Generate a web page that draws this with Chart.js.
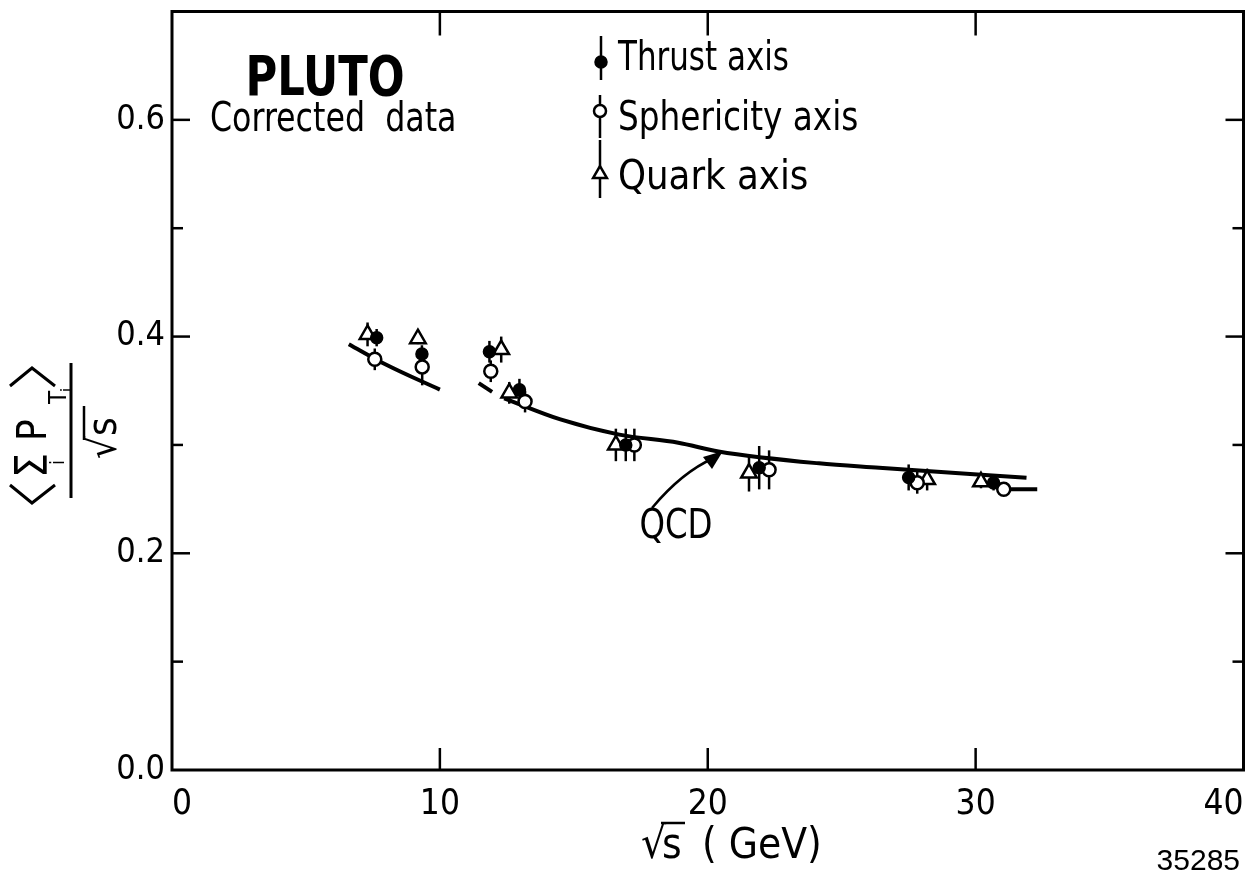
<!DOCTYPE html>
<html>
<head>
<meta charset="utf-8">
<title>PLUTO - sum pT / sqrt(s)</title>
<script src="https://cdn.jsdelivr.net/npm/chart.js@4.4.0/dist/chart.umd.min.js"></script>
<style>
    html, body { margin: 0; padding: 0; background: #fff; }
    #wrap { width: 1255px; height: 875px; position: relative; }
</style>
</head>
<body>
<div id="wrap"><canvas id="chart"></canvas></div>
<script>
// Values (sqrt(s) in GeV, <sum pT>/sqrt(s))
const thrustX = [7.64, 9.33, 11.85, 12.97, 16.94, 21.92, 27.50, 30.67];
const thrustY = [0.399, 0.384, 0.386, 0.351, 0.300, 0.279, 0.270, 0.265];
const thrustErr = [0.008, 0.008, 0.010, 0.010, 0.015, 0.020, 0.012, 0.007];

const sphericityX = [7.57, 9.34, 11.90, 13.18, 17.26, 22.29, 27.82, 31.05];
const sphericityY = [0.379, 0.372, 0.368, 0.340, 0.300, 0.277, 0.265, 0.259];
const sphericityErr = [0.010, 0.017, 0.010, 0.010, 0.015, 0.018, 0.010, 0.006];

const quarkX = [7.30, 9.18, 12.29, 12.59, 16.57, 21.54, 28.19, 30.20];
const quarkY = [0.402, 0.398, 0.388, 0.348, 0.300, 0.274, 0.268, 0.266];
const quarkErr = [0.011, 0.005, 0.012, 0.010, 0.015, 0.017, 0.010, 0.006];

// QCD prediction, drawn in pieces like the original
const qcdLowX = [6.6, 8.0, 10.0];
const qcdLowY = [0.393, 0.374, 0.351];
const qcdDashX = [11.45, 11.95];
const qcdDashY = [0.357, 0.349];
const qcdHighX = [12.4, 14.5, 16.7, 18.9, 20.4, 24.15, 26.4, 31.9];
const qcdHighY = [0.343, 0.3235, 0.3095, 0.302, 0.294, 0.283, 0.279, 0.2696];
const qcdTailX = [31.3, 32.3];
const qcdTailY = [0.259, 0.259];

const xTickStep = 10;
const yTickStep = 0.1;

const FONT = "'Liberation Sans Narrow', 'DejaVu Sans Condensed', 'Arial Narrow', sans-serif";

function toPoints(xs, ys) {
    return xs.map((x, i) => ({ x: x, y: ys[i] }));
}

function line(ctx, x1, y1, x2, y2) {
    ctx.beginPath();
    ctx.moveTo(x1, y1);
    ctx.lineTo(x2, y2);
    ctx.stroke();
}

/**
 * Draw text squeezed horizontally (the original lettering is very narrow)
 */
function text(ctx, str, x, y, size, opts = {}) {
    ctx.save();
    ctx.fillStyle = '#000';
    ctx.font = (opts.bold ? 'bold ' : '') + size + 'px ' + (opts.family || FONT);
    ctx.textAlign = opts.align || 'left';
    ctx.textBaseline = 'alphabetic';
    const sx = opts.squeeze || 1;
    ctx.translate(x, y);
    ctx.scale(sx, 1);
    ctx.fillText(str, 0, 0);
    ctx.restore();
}

// vertical error bars, drawn under the markers
const errorBars = {
    id: 'errorBars',
    beforeDatasetsDraw(chart) {
        const ctx = chart.ctx;
        const xs = chart.scales.x, ys = chart.scales.y;
        ctx.save();
        ctx.strokeStyle = '#000';
        ctx.lineWidth = 2.5;
        chart.data.datasets.forEach(ds => {
            if (!ds.errors) return;
            ds.data.forEach((p, i) => {
                const px = xs.getPixelForValue(p.x);
                line(ctx, px, ys.getPixelForValue(p.y - ds.errors[i]),
                          px, ys.getPixelForValue(p.y + ds.errors[i]));
            });
        });
        ctx.restore();
    }
};

// box round the plot with inward ticks on all four sides
const frameTicks = {
    id: 'frameTicks',
    afterDraw(chart) {
        const ctx = chart.ctx;
        const a = chart.chartArea;
        const x = chart.scales.x, y = chart.scales.y;
        ctx.save();
        ctx.strokeStyle = '#000';
        ctx.lineWidth = 3;
        ctx.strokeRect(a.left, a.top, a.right - a.left, a.bottom - a.top);
        ctx.lineWidth = 2.5;
        x.ticks.forEach(t => {
            if (t.value <= x.min || t.value >= x.max) return;
            const px = x.getPixelForValue(t.value);
            line(ctx, px, a.bottom, px, a.bottom - 22);
            line(ctx, px, a.top, px, a.top + 24);
        });
        y.ticks.forEach(t => {
            if (t.value <= y.min || t.value >= y.max) return;
            const py = y.getPixelForValue(t.value);
            const len = t.label ? 18 : 11;
            line(ctx, a.left, py, a.left + len, py);
            line(ctx, a.right, py, a.right - len, py);
        });
        ctx.restore();
    }
};

function legendSymbol(ctx, style, x, y, top, bottom, filled, radius) {
    ctx.save();
    ctx.strokeStyle = '#000';
    ctx.lineWidth = 2.5;
    line(ctx, x, top, x, bottom);
    ctx.fillStyle = filled ? '#000' : '#fff';
    Chart.helpers.drawPoint(ctx, { pointStyle: style, radius: radius, rotation: 0, borderWidth: 2.5 }, x, y);
    ctx.restore();
}

function drawYTitle(ctx) {
    ctx.save();
    ctx.translate(0, 432);
    ctx.rotate(-Math.PI / 2);
    // (u, v) here is screen (v, 432 - u)
    ctx.strokeStyle = '#000';
    ctx.lineWidth = 3;

    // angle brackets
    ctx.beginPath();
    ctx.moveTo(-53, 10); ctx.lineTo(-71, 32); ctx.lineTo(-53, 55);
    ctx.stroke();
    ctx.beginPath();
    ctx.moveTo(46, 10); ctx.lineTo(64, 32); ctx.lineTo(46, 55);
    ctx.stroke();

    text(ctx, '\u03A3', -46, 47, 44);
    text(ctx, 'i', -33, 64, 20);
    text(ctx, 'P', -9, 46, 40);
    text(ctx, 'T', 28, 66, 24);
    text(ctx, 'i', 40, 72, 16);

    // fraction bar
    line(ctx, -66, 71, 69, 71);

    // sqrt(s)
    text(ctx, '\u221A', -27, 116, 40);
    text(ctx, 's', -4, 116, 40);
    ctx.lineWidth = 2.5;
    line(ctx, -8, 84, 26, 84);
    ctx.restore();
}

const annotations = {
    id: 'annotations',
    afterDraw(chart) {
        const ctx = chart.ctx;
        ctx.save();

        // header text
        text(ctx, 'PLUTO', 325, 95, 56, { bold: true, align: 'center', squeeze: 0.86 });
        text(ctx, 'Corrected  data', 210, 131, 40, { squeeze: 0.88 });

        // legend
        text(ctx, 'Thrust axis', 618, 70, 40, { squeeze: 0.86 });
        text(ctx, 'Sphericity axis', 618, 130, 40, { squeeze: 0.91 });
        text(ctx, 'Quark axis', 618, 189, 40, { squeeze: 0.99 });
        legendSymbol(ctx, 'circle', 601, 62, 36, 80, true, 5.5);
        legendSymbol(ctx, 'circle', 600, 111, 95, 138, false, 6);
        legendSymbol(ctx, 'triangle', 600, 174, 140, 198, false, 8);

        // QCD label with arrow
        text(ctx, 'QCD', 676, 538, 40, { align: 'center', squeeze: 0.9 });
        ctx.strokeStyle = '#000';
        ctx.fillStyle = '#000';
        ctx.lineWidth = 2.5;
        ctx.beginPath();
        ctx.moveTo(652, 508);
        ctx.quadraticCurveTo(682, 472, 714, 458);
        ctx.stroke();
        ctx.beginPath();
        ctx.moveTo(723, 451);
        ctx.lineTo(703, 457);
        ctx.lineTo(712, 469);
        ctx.closePath();
        ctx.fill();

        // x axis title
        text(ctx, '\u221A', 641, 858, 44);
        text(ctx, 's', 662, 858, 42);
        ctx.lineWidth = 2.5;
        line(ctx, 661, 823, 685, 823);
        text(ctx, '( GeV)', 702, 858, 42);

        // plate number
        text(ctx, '35285', 1240, 870, 30, { align: 'right', family: "'Liberation Sans', Arial, sans-serif" });

        drawYTitle(ctx);
        ctx.restore();
    }
};

const curveStyle = {
    showLine: true,
    pointRadius: 0,
    borderColor: '#000',
    borderWidth: 4,
    cubicInterpolationMode: 'monotone',
    fill: false
};

const chart = new Chart(document.getElementById('chart'), {
    type: 'scatter',
    data: {
        datasets: [
            {
                label: 'Thrust axis',
                data: toPoints(thrustX, thrustY),
                errors: thrustErr,
                pointStyle: 'circle',
                pointRadius: 6,
                backgroundColor: '#000',
                borderColor: '#000',
                borderWidth: 1.5
            },
            {
                label: 'Sphericity axis',
                data: toPoints(sphericityX, sphericityY),
                errors: sphericityErr,
                pointStyle: 'circle',
                pointRadius: 6.5,
                backgroundColor: '#fff',
                borderColor: '#000',
                borderWidth: 2.5
            },
            {
                label: 'Quark axis',
                data: toPoints(quarkX, quarkY),
                errors: quarkErr,
                pointStyle: 'triangle',
                pointRadius: 9,
                backgroundColor: '#fff',
                borderColor: '#000',
                borderWidth: 2.5
            },
            { label: 'QCD', data: toPoints(qcdLowX, qcdLowY), ...curveStyle },
            { label: 'QCD dash', data: toPoints(qcdDashX, qcdDashY), ...curveStyle },
            { label: 'QCD high', data: toPoints(qcdHighX, qcdHighY), ...curveStyle },
            { label: 'QCD tail', data: toPoints(qcdTailX, qcdTailY), ...curveStyle }
        ]
    },
    options: {
        responsive: true,
        maintainAspectRatio: false,
        animation: false,
        devicePixelRatio: 1,
        layout: { padding: { top: 6, right: 10, left: 0, bottom: 0 } },
        plugins: {
            legend: { display: false },
            tooltip: { enabled: false }
        },
        scales: {
            x: {
                type: 'linear',
                min: 0,
                max: 40,
                grid: { display: false },
                border: { display: false },
                ticks: {
                    stepSize: xTickStep,
                    padding: 6,
                    align: 'inner',
                    color: '#000',
                    font: { family: FONT, size: 35 },
                    maxRotation: 0
                },
                afterFit(scale) {
                    scale.height = 105;
                    scale.paddingLeft = 0;
                    scale.paddingRight = 0;
                }
            },
            y: {
                type: 'linear',
                min: 0,
                max: 0.7,
                grid: { display: false },
                border: { display: false },
                ticks: {
                    stepSize: yTickStep,
                    padding: -1,
                    color: '#000',
                    font: { family: FONT, size: 34 },
                    callback: v => (Math.round(v * 10) % 2 === 0 ? v.toFixed(1) : '')
                },
                afterFit(scale) {
                    scale.width = 172;
                    scale.paddingTop = 0;
                    scale.paddingBottom = 0;
                }
            }
        }
    },
    plugins: [errorBars, frameTicks, annotations]
});
</script>
</body>
</html>
